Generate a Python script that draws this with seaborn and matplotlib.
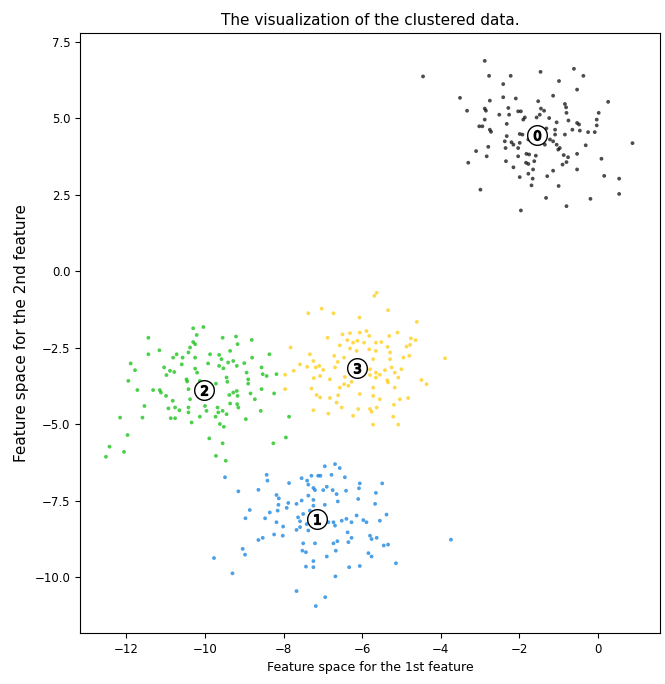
import numpy as np
import pandas as pd
import matplotlib
matplotlib.use("Agg")
import matplotlib.pyplot as plt
from matplotlib import cm
import seaborn as sns

# Cluster 0 (upper right)
x0 = [-2.88, -2.77, -2.22, -1.46, -0.61, -0.37, -2.41, -0.99, -0.53, -3.51,
      -2.75, -2.41, -2.09, -1.14, 0.26, -3.33, -2.88, -2.85, -2.51, -2.28,
      -2.26, -2.03, -1.96, -1.52, -1.45, -1.37, -0.84, -0.81, -0.80, 0.02,
      -2.88, -3.02, -2.94, -2.75, -2.72, -2.32, -1.90, -1.86, -1.56, -1.48,
      -1.24, -1.05, -0.75, -0.53, -0.48, -0.03, -0.03, -2.32, -1.99, -1.92,
      -1.09, -0.84, -0.65, -0.46, -0.25, -0.08, -2.37, -2.20, -1.99, -1.77,
      -1.22, -1.14, -1.05, -2.35, -2.15, -2.03, -1.35, -1.01, -0.97, -0.31,
      0.88, -3.10, -2.79, -2.83, -1.82, -1.75, -1.58, -2.03, -0.87, -0.76,
      -0.53, 0.09, -3.30, -2.34, -1.83, -1.77, -1.62, -2.15, -0.90, -0.80,
      -0.53, -1.65, -1.14, -1.77, -1.99, -1.66, -1.29, 0.16, 0.54, -1.69,
      -1.00, -2.99, 0.54, -1.32, -0.19, -0.80, -1.96,
      -1.48, -1.39, -1.31, -1.09, -1.60, -4.45]
y0 = [6.87, 6.38, 6.38, 6.51, 6.61, 6.38, 6.11, 6.21, 5.93, 5.66,
      5.57, 5.68, 5.64, 5.73, 5.53, 5.24, 5.31, 5.24, 5.11, 5.33,
      5.11, 5.22, 5.22, 5.55, 5.31, 5.24, 5.46, 5.35, 5.17, 5.17,
      4.95, 4.73, 4.73, 4.62, 4.55, 4.81, 4.95, 5.02, 5.02, 5.11,
      5.00, 4.86, 4.92, 4.84, 4.79, 4.95, 4.76, 4.41, 4.48, 4.46,
      4.62, 4.46, 4.62, 4.59, 4.54, 4.54, 4.24, 4.21, 4.19, 4.30,
      4.30, 4.24, 4.13, 4.02, 4.13, 4.02, 4.13, 3.97, 4.02, 4.11,
      4.18, 3.92, 4.06, 3.75, 3.83, 3.81, 3.77, 3.75, 3.79, 3.72,
      3.83, 3.67, 3.54, 3.59, 3.54, 3.50, 3.59, 3.39, 3.48, 3.56,
      3.32, 3.32, 3.28, 3.18, 3.07, 3.02, 3.10, 3.11, 3.02, 2.80,
      2.78, 2.66, 2.52, 2.39, 2.36, 2.12, 1.98,
      4.57, 4.30, 4.66, 4.46, 4.33, 6.36]

# Cluster 1 (bottom)
x1 = [-9.49, -8.43, -8.41, -9.15, -8.64, -7.86, -7.54, -7.40, -7.29, -7.12,
      -7.06, -6.95, -6.69, -6.57, -6.78, -6.44, -7.37, -7.24, -7.20, -6.99,
      -6.90, -6.75, -6.65, -6.41, -6.06, -6.08, -5.49, -5.65, -8.18, -8.12,
      -7.88, -7.67, -7.54, -7.37, -7.24, -8.13, -7.92, -8.15, -7.24, -6.95,
      -6.62, -6.10, -5.67, -8.86, -8.35, -8.97, -8.47, -8.18, -8.01, -7.63,
      -7.58, -7.67, -7.41, -7.37, -6.73, -6.69, -6.52, -6.40, -6.27, -6.14,
      -5.97, -5.89, -5.55, -5.38, -8.24, -8.02, -8.64, -8.53, -6.37, -6.27,
      -6.35, -5.80, -5.76, -5.63, -7.50, -7.20, -6.73, -6.63, -5.45, -5.34,
      -3.74, -9.04, -8.98, -7.52, -7.43, -6.90, -6.67, -5.84, -5.76, -5.14,
      -9.77, -7.24, -7.43, -7.24, -6.33, -6.06, -9.30, -6.68, -7.67, -6.94,
      -7.18, -7.50, -6.86, -7.58, -7.33]
y1 = [-6.74, -6.66, -6.85, -7.20, -7.15, -6.93, -6.77, -6.85, -6.69, -6.69,
      -6.69, -6.38, -6.31, -6.44, -6.66, -6.74, -6.98, -7.09, -7.16, -7.16,
      -7.05, -7.16, -7.29, -7.18, -6.94, -7.10, -6.94, -7.25, -7.32, -7.43,
      -7.58, -7.61, -7.50, -7.34, -7.48, -7.64, -7.74, -7.83, -7.67, -7.64,
      -7.53, -7.45, -7.61, -7.81, -7.89, -8.08, -8.08, -8.21, -8.35, -8.05,
      -8.18, -8.46, -8.27, -8.48, -8.21, -8.32, -8.16, -8.10, -8.21, -7.99,
      -8.14, -8.21, -8.16, -7.96, -8.61, -8.65, -8.79, -8.72, -8.54, -8.72,
      -8.86, -8.65, -8.76, -8.72, -8.90, -8.90, -8.90, -8.83, -8.97, -8.94,
      -8.78, -9.08, -9.27, -9.14, -9.19, -9.33, -9.14, -9.22, -9.33, -9.55,
      -9.38, -9.48, -9.66, -9.68, -9.68, -9.64, -9.88, -9.98, -10.46, -10.66,
      -10.95, -7.94, -8.21, -8.37, -7.83]

# Cluster 2 (left)
x2 = [-10.30, -10.04, -10.21, -11.44, -9.55, -9.21, -9.17, -8.81, -10.30, -10.25,
      -10.38, -10.42, -11.16, -11.44, -10.72, -10.81, -10.57, -10.25, -9.87, -9.64,
      -9.58, -9.36, -9.28, -9.41, -9.00, -8.80, -8.36, -11.89, -11.78, -11.04,
      -10.89, -10.78, -10.98, -10.59, -10.25, -10.20, -9.92, -9.64, -9.53, -9.19,
      -8.94, -8.56, -8.53, -8.43, -8.18, -11.95, -10.47, -10.45, -10.13, -9.72,
      -9.43, -8.90, -8.90, -11.72, -11.32, -11.15, -11.12, -10.99, -10.42, -10.38,
      -9.38, -9.28, -9.19, -9.17, -8.84, -8.56, -8.24, -11.54, -10.82, -10.76,
      -10.65, -10.93, -10.42, -10.00, -9.96, -9.68, -9.36, -9.18, -9.15, -8.73,
      -12.16, -11.59, -10.87, -10.76, -10.42, -10.34, -10.13, -9.73, -9.66, -9.55,
      -9.45, -8.96, -8.58, -7.86, -9.62, -9.52, -11.97, -9.89, -7.94, -12.43,
      -12.06, -12.52, -9.55, -9.72, -9.47, -8.26, -10.21, -10.00, -9.45]
y2 = [-1.87, -1.83, -2.09, -2.18, -2.18, -2.14, -2.39, -2.25, -2.32, -2.39,
      -2.50, -2.66, -2.59, -2.72, -2.72, -2.83, -2.83, -2.83, -2.72, -2.74,
      -2.88, -2.61, -2.94, -2.99, -3.01, -2.83, -2.72, -3.02, -3.24, -3.15,
      -3.26, -3.30, -3.40, -3.05, -3.19, -3.32, -3.02, -3.10, -3.18, -3.10,
      -3.32, -3.15, -3.37, -3.43, -3.37, -3.59, -3.54, -3.61, -3.59, -3.68,
      -3.62, -3.54, -3.68, -3.89, -3.89, -3.89, -3.97, -4.08, -3.86, -4.19,
      -4.05, -3.97, -3.92, -4.08, -4.00, -3.86, -4.00, -4.41, -4.24, -4.46,
      -4.55, -4.49, -4.46, -4.41, -4.57, -4.46, -4.33, -4.35, -4.46, -4.19,
      -4.79, -4.79, -4.81, -4.81, -4.62, -4.95, -4.76, -4.76, -4.62, -4.57,
      -4.68, -4.84, -4.57, -4.76, -5.00, -5.09, -5.36, -5.47, -5.44, -5.74,
      -5.91, -6.07, -5.63, -6.04, -6.20, -5.63, -3.86, -4.13, -3.48]

# Cluster 3 (middle)
x3 = [-5.63, -5.69, -7.37, -7.03, -6.73, -6.07, -5.34, -4.61, -6.50, -6.31,
      -6.06, -5.89, -5.82, -6.88, -6.38, -6.23, -6.12, -5.95, -5.65, -5.51,
      -5.31, -5.10, -4.76, -4.64, -4.87, -4.78, -6.57, -6.31, -6.14, -5.82,
      -5.65, -5.35, -5.29, -7.82, -7.33, -7.24, -6.71, -6.62, -6.46, -5.72,
      -5.29, -4.95, -4.80, -3.89, -7.58, -7.40, -7.18, -7.09, -6.99, -6.69,
      -5.80, -5.65, -5.42, -5.25, -5.17, -5.00, -7.96, -7.74, -7.23, -7.07,
      -6.82, -6.44, -5.80, -5.65, -5.55, -5.36, -5.08, -4.49, -4.36, -7.96,
      -7.29, -6.57, -6.46, -6.35, -6.27, -5.72, -5.34, -5.17, -7.16, -7.07,
      -6.82, -6.61, -6.06, -5.72, -5.55, -5.04, -4.83, -6.65, -6.52, -6.10,
      -5.80, -5.76, -5.63, -5.19, -7.24, -6.86, -6.23, -5.21, -5.72, -5.08]
y3 = [-0.71, -0.81, -1.38, -1.23, -1.38, -1.52, -1.28, -1.66, -2.07, -2.03,
      -2.01, -1.96, -2.12, -2.18, -2.26, -2.34, -2.28, -2.34, -2.34, -2.32,
      -2.12, -2.01, -2.20, -2.26, -2.47, -2.41, -2.43, -2.53, -2.61, -2.56,
      -2.61, -2.48, -2.66, -2.50, -2.72, -2.94, -2.77, -2.97, -2.83, -2.88,
      -2.88, -2.83, -2.77, -2.85, -3.05, -3.13, -3.15, -3.10, -3.23, -3.15,
      -3.21, -3.32, -3.24, -3.15, -3.32, -3.21, -3.39, -3.26, -3.50, -3.43,
      -3.54, -3.46, -3.40, -3.48, -3.39, -3.57, -3.48, -3.56, -3.70, -3.86,
      -3.84, -3.81, -3.70, -3.75, -3.62, -3.81, -3.64, -3.81, -4.05, -4.13,
      -4.15, -4.06, -4.02, -4.08, -4.19, -4.19, -4.15, -4.30, -4.46, -4.51,
      -4.51, -4.60, -4.46, -4.37, -4.55, -4.66, -4.73, -4.76, -5.02, -5.02]

# Cluster centers
center_x = [-1.54, -7.16, -10.03, -6.12]
center_y = [4.44, -8.12, -3.88, -3.18]

n_clusters = 4
clusters = [(x0, y0), (x1, y1), (x2, y2), (x3, y3)]
df = pd.concat(
    [pd.DataFrame({"x": xs, "y": ys, "cluster": k}) for k, (xs, ys) in enumerate(clusters)],
    ignore_index=True,
)
centers = pd.DataFrame({"x": center_x, "y": center_y, "cluster": range(n_clusters)})
palette = {k: cm.nipy_spectral(k / n_clusters) for k in range(n_clusters)}

fig = plt.figure(figsize=(6.65, 6.84), dpi=100)
ax = fig.add_axes([80 / 665, 1 - 633 / 684, 580 / 665, 600 / 684])

sns.scatterplot(data=df, x="x", y="y", hue="cluster", palette=palette,
                marker=".", s=30, linewidth=0, alpha=0.7, legend=False, ax=ax)

# White discs marking the centers, with the cluster number on top
sns.scatterplot(data=centers, x="x", y="y", marker="o", color="white",
                s=200, edgecolor="k", linewidth=1, alpha=1, legend=False, ax=ax)
for k, row in centers.iterrows():
    ax.scatter(row["x"], row["y"], marker="$%d$" % k, s=50, color="k", alpha=1)

ax.set_xlim(-13.18, 1.58)
ax.set_ylim(-11.83, 7.78)
ax.set_xticks([-12, -10, -8, -6, -4, -2, 0])
ax.set_yticks([-10.0, -7.5, -5.0, -2.5, 0.0, 2.5, 5.0, 7.5])
ax.tick_params(labelsize=8.5)
ax.set_title("The visualization of the clustered data.", fontsize=11)
ax.set_xlabel("Feature space for the 1st feature", fontsize=9)
ax.set_ylabel("Feature space for the 2nd feature", fontsize=11)

fig.savefig("out.png", dpi=100)
